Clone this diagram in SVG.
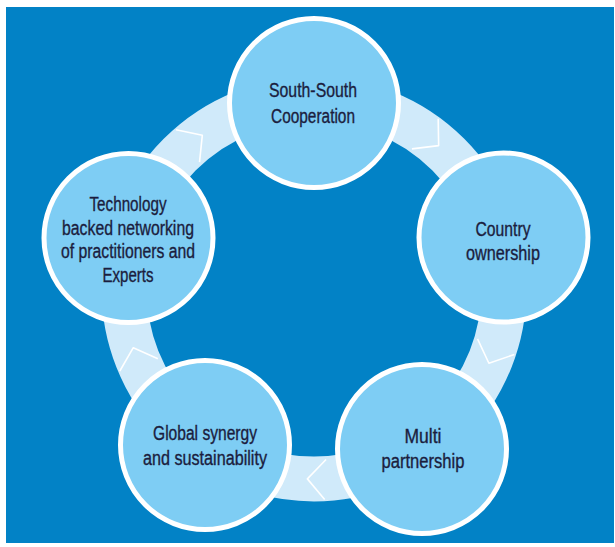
<svg xmlns="http://www.w3.org/2000/svg" width="615" height="547" viewBox="0 0 615 547">
<style>
.node circle{fill:#7ecdf4;stroke:#ffffff;stroke-width:5}
.node text{font-family:"Liberation Sans Narrow","Liberation Sans",Arial,sans-serif;font-size:20px;fill:#1b1d3e;stroke:#1b1d3e;stroke-width:0.35;text-anchor:middle}
.ring{fill:none;stroke:#d0eafa;stroke-width:45}
.chev{fill:none;stroke:#ffffff;stroke-width:1.6;stroke-linejoin:round}
</style>
<defs>
<path id="chev" d="M -18,-210 L 0,-190 L -18,-170"/>
</defs>
<rect x="0" y="0" width="615" height="547" fill="#ffffff"/>
<rect x="6" y="7" width="608" height="536" fill="#0282c6"/>
<g id="connectors">
<circle class="ring" cx="314" cy="289" r="190"/>
<g transform="translate(314,289)">
<use href="#chev" class="chev" transform="rotate(-36)"/>
<use href="#chev" class="chev" transform="rotate(41)"/>
<use href="#chev" class="chev" transform="rotate(113)"/>
<use href="#chev" class="chev" transform="rotate(182)"/>
<use href="#chev" class="chev" transform="rotate(252)"/>
</g>
</g>
<g id="node-south" class="node">
<circle cx="314" cy="103" r="84.5"/>
<text x="313" y="97" textLength="88" lengthAdjust="spacingAndGlyphs">South-South</text>
<text x="313" y="123" textLength="84" lengthAdjust="spacingAndGlyphs">Cooperation</text>
</g>
<g id="node-country" class="node">
<circle cx="503.5" cy="237.5" r="84.5"/>
<text x="503" y="236" textLength="55" lengthAdjust="spacingAndGlyphs">Country</text>
<text x="503" y="260" textLength="74" lengthAdjust="spacingAndGlyphs">ownership</text>
</g>
<g id="node-multi" class="node">
<circle cx="422" cy="449" r="84.5"/>
<text x="423" y="443" textLength="37" lengthAdjust="spacingAndGlyphs">Multi</text>
<text x="423" y="468" textLength="83" lengthAdjust="spacingAndGlyphs">partnership</text>
</g>
<g id="node-global" class="node">
<circle cx="205" cy="445" r="84.5"/>
<text x="205" y="440" textLength="104" lengthAdjust="spacingAndGlyphs">Global synergy</text>
<text x="205" y="465" textLength="124" lengthAdjust="spacingAndGlyphs">and sustainability</text>
</g>
<g id="node-tech" class="node">
<circle cx="128.5" cy="238" r="84.5"/>
<text x="128" y="211" textLength="77" lengthAdjust="spacingAndGlyphs">Technology</text>
<text x="128" y="235" textLength="132" lengthAdjust="spacingAndGlyphs">backed networking</text>
<text x="128" y="258" textLength="134" lengthAdjust="spacingAndGlyphs">of practitioners and</text>
<text x="128" y="282" textLength="51" lengthAdjust="spacingAndGlyphs">Experts</text>
</g>
</svg>
